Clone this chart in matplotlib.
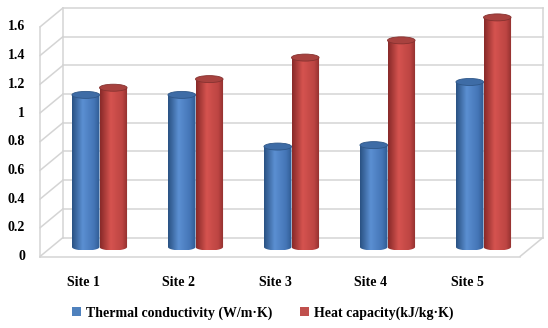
import matplotlib
matplotlib.use('Agg')
import matplotlib.pyplot as plt
import numpy as np
from matplotlib.colors import LinearSegmentedColormap
from matplotlib.patches import Ellipse, PathPatch, Patch
from matplotlib.path import Path
from matplotlib.transforms import ScaledTranslation

sites = ['Site 1', 'Site 2', 'Site 3', 'Site 4', 'Site 5']
thermal_cond = [1.06, 1.06, 0.70, 0.71, 1.15]
heat_cap = [1.11, 1.17, 1.32, 1.44, 1.60]
y_ticks = [0, 0.2, 0.4, 0.6, 0.8, 1, 1.2, 1.4, 1.6]
series_names = ['Thermal conductivity (W/m\u00b7K)', 'Heat capacity(kJ/kg\u00b7K)']

plt.rcParams['font.family'] = ['Liberation Serif', 'DejaVu Serif']
plt.rcParams['font.weight'] = 'bold'

W, H = 548, 328
fig = plt.figure(figsize=(W / 100, H / 100), dpi=100)

# middle depth plane: 0 at y=81px from bottom, 143.5 px per unit
scale = 143.5
zero_px = 81
ylo, yhi = -0.2, 1.7
ax = fig.add_axes([51.5 / W, (zero_px + ylo * scale) / H, 480 / W, (yhi - ylo) * scale / H])
ax.set_xlim(-0.5, 4.5)
ax.set_ylim(ylo, yhi)
ax.axis('off')


def off(dx, dy):
    return ax.transData + ScaledTranslation(dx / 100, dy / 100, fig.dpi_scale_trans)


depth_x, depth_y = 11.5, 9.5
back = off(depth_x, depth_y)
front = off(-depth_x, -depth_y)
grid_c = '#d4d4d4'

# back wall + side wall gridlines
for t in y_ticks:
    ax.plot([-0.5, 4.5], [t, t], color=grid_c, lw=1.1, transform=back, clip_on=False, zorder=0)
    ax.annotate('', xy=(-0.5, t), xycoords=back, xytext=(-0.5, t), textcoords=front,
                arrowprops=dict(arrowstyle='-', color=grid_c, lw=1.1, shrinkA=0, shrinkB=0))
    ax.text(-0.5, t, f'{t:g}', transform=off(-depth_x - 15, -depth_y), ha='right', va='center',
            fontsize=10, fontweight='bold')
ax.plot([-0.5, -0.5], [0, 1.6], color=grid_c, lw=1.1, transform=back, clip_on=False, zorder=0)
ax.plot([4.5, 4.5], [0, 1.6], color=grid_c, lw=1.1, transform=back, clip_on=False, zorder=0)
ax.plot([-0.5, -0.5], [0, 1.6], color=grid_c, lw=1.1, transform=front, clip_on=False, zorder=0)
ax.plot([-0.5, 4.5], [0, 0], color=grid_c, lw=1.1, transform=front, clip_on=False, zorder=0)
ax.annotate('', xy=(4.5, 0), xycoords=back, xytext=(4.5, 0), textcoords=front,
            arrowprops=dict(arrowstyle='-', color=grid_c, lw=1.1, shrinkA=0, shrinkB=0))

blue_cmap = LinearSegmentedColormap.from_list(
    'b', [(0, '#2a5283'), (0.38, '#5b8fd2'), (0.8, '#4475b6'), (1, '#2f5b92')])
red_cmap = LinearSegmentedColormap.from_list(
    'r', [(0, '#882a29'), (0.38, '#d5534f'), (0.8, '#bd4543'), (1, '#8f2f2d')])

bw = 0.287
eh = 7 / scale
grad = np.linspace(0, 1, 64).reshape(1, -1)


def cylinder(xc, v, cmap, top_c, edge_c):
    x0, x1 = xc - bw / 2, xc + bw / 2
    th = np.linspace(np.pi, 2 * np.pi, 40)
    arc = np.column_stack([xc + bw / 2 * np.cos(th), eh / 2 * np.sin(th)])
    verts = np.vstack([[x0, v], arc, [x1, v], [x0, v]])
    clip = PathPatch(Path(verts, closed=True), transform=ax.transData)
    im = ax.imshow(grad, extent=[x0, x1, -eh / 2, v], aspect='auto', cmap=cmap,
                   interpolation='bilinear', zorder=2)
    im.set_clip_path(clip)
    ax.add_patch(Ellipse((xc, v), bw, eh, facecolor=top_c, edgecolor=edge_c, lw=0.6, zorder=3))


x = np.arange(len(sites))
for i in x:
    cylinder(i - bw / 2, thermal_cond[i], blue_cmap, '#3e6ca6', '#2f5788')
    cylinder(i + bw / 2, heat_cap[i], red_cmap, '#a8423f', '#863230')
    ax.text(i, 0, sites[i], transform=off(-16.5, -35), ha='center', va='center',
            fontsize=10, fontweight='bold')

ax.set_xlim(-0.5, 4.5)
ax.set_ylim(ylo, yhi)

handles = [Patch(facecolor='#4f81bd'), Patch(facecolor='#c0504d')]
fig.legend(handles, series_names, loc='center', bbox_to_anchor=(263 / W, 15 / H), ncol=2,
           frameon=False, handlelength=0.6, handleheight=0.6, handletextpad=0.4,
           columnspacing=2.0, prop={'family': 'Liberation Serif', 'weight': 'bold', 'size': 10})

fig.savefig('out.png', dpi=100)
